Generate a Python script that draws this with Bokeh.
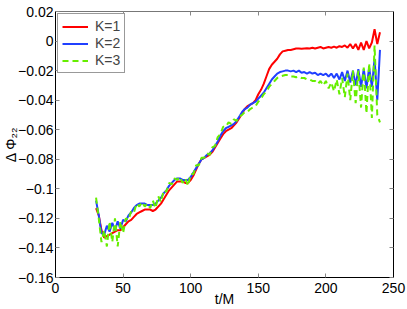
from bokeh.plotting import figure
from bokeh.models import LinearAxis, FixedTicker, Range1d, Legend, LegendItem
from bokeh.embed import file_html
from bokeh.resources import INLINE

# ---- data ----
t = [30, 32, 34, 36, 38, 40, 42, 44, 46, 48, 50, 52, 54, 56, 58, 60, 62, 64, 66, 68,
     70, 72, 74, 76, 78, 80, 82, 84, 86, 88, 90, 92, 94, 96, 98, 100, 102, 104, 106, 108,
     110, 112, 114, 116, 118, 120, 122, 124, 126, 128, 130, 132, 134, 136, 138, 140, 142, 144, 146, 148,
     150, 152, 154, 156, 158, 160, 162, 164, 166, 168, 170, 172, 174, 176, 178, 180, 182, 184, 186, 188,
     190, 192, 194, 196, 198, 200, 202, 204, 206, 208, 210, 212, 214, 216, 218, 220, 222, 224, 226, 228,
     230, 232, 234, 236, 238, 240]

k1 = [-0.113, -0.118, -0.128, -0.133, -0.132, -0.131, -0.130, -0.129, -0.128, -0.128,
      -0.126, -0.124, -0.122, -0.121, -0.119, -0.117, -0.116, -0.115, -0.114, -0.114,
      -0.114, -0.115, -0.114, -0.112, -0.110, -0.107, -0.104, -0.101, -0.099, -0.097,
      -0.095, -0.095, -0.095, -0.096, -0.096, -0.094, -0.091, -0.087, -0.083, -0.080,
      -0.079, -0.078, -0.077, -0.075, -0.072, -0.069, -0.066, -0.063, -0.061, -0.060,
      -0.059, -0.057, -0.055, -0.052, -0.049, -0.046, -0.044, -0.043, -0.042, -0.040,
      -0.036, -0.033, -0.029, -0.024, -0.019, -0.016, -0.014, -0.012, -0.009, -0.007,
      -0.0065, -0.006, -0.006, -0.0055, -0.005, -0.005, -0.0052, -0.005, -0.0048, -0.005,
      -0.0045, -0.005, -0.0045, -0.004, -0.005, -0.0045, -0.004, -0.0045, -0.0038, -0.0045,
      -0.0035, -0.004, -0.003, -0.0045, -0.002, -0.005, -0.002, -0.006, -0.001, -0.006,
      0.000, -0.005, -0.001, 0.008, -0.002, 0.006]

k2 = [-0.108, -0.118, -0.130, -0.131, -0.125, -0.129, -0.123, -0.128, -0.122, -0.127,
      -0.121, -0.122, -0.118, -0.116, -0.113, -0.111, -0.110, -0.110, -0.110, -0.111,
      -0.111, -0.111, -0.110, -0.108, -0.106, -0.103, -0.101, -0.098, -0.096, -0.094,
      -0.093, -0.093, -0.094, -0.094, -0.094, -0.092, -0.089, -0.086, -0.083, -0.080,
      -0.079, -0.077, -0.076, -0.074, -0.071, -0.068, -0.064, -0.061, -0.059, -0.058,
      -0.057, -0.056, -0.054, -0.051, -0.048, -0.046, -0.045, -0.043, -0.042, -0.041,
      -0.039, -0.037, -0.035, -0.032, -0.029, -0.026, -0.024, -0.022, -0.021, -0.0205,
      -0.020, -0.020, -0.0205, -0.020, -0.021, -0.020, -0.0215, -0.021, -0.022, -0.021,
      -0.022, -0.0215, -0.023, -0.022, -0.023, -0.022, -0.024, -0.022, -0.025, -0.022,
      -0.026, -0.021, -0.027, -0.020, -0.028, -0.020, -0.030, -0.019, -0.031, -0.019,
      -0.032, -0.018, -0.031, -0.012, -0.040, -0.006]

k3 = [-0.106, -0.120, -0.136, -0.128, -0.139, -0.122, -0.136, -0.120, -0.139, -0.122,
      -0.130, -0.120, -0.121, -0.115, -0.116, -0.110, -0.112, -0.109, -0.112, -0.110,
      -0.113, -0.108, -0.113, -0.105, -0.109, -0.101, -0.102, -0.096, -0.097, -0.093,
      -0.094, -0.092, -0.096, -0.093, -0.098, -0.090, -0.090, -0.084, -0.084, -0.079,
      -0.079, -0.076, -0.077, -0.072, -0.071, -0.065, -0.063, -0.058, -0.058, -0.055,
      -0.056, -0.053, -0.054, -0.051, -0.050, -0.048, -0.048, -0.046, -0.045, -0.044,
      -0.041, -0.039, -0.036, -0.034, -0.031, -0.029, -0.027, -0.025, -0.024, -0.0235,
      -0.023, -0.023, -0.024, -0.024, -0.0245, -0.024, -0.025, -0.025, -0.026, -0.026,
      -0.027, -0.027, -0.029, -0.027, -0.030, -0.027, -0.032, -0.028, -0.034, -0.026,
      -0.036, -0.025, -0.038, -0.022, -0.040, -0.020, -0.042, -0.020, -0.045, -0.018,
      -0.049, -0.015, -0.052, -0.003, -0.050, -0.055]

series_names = ["K=1", "K=2", "K=3"]
x_ticks = [0, 50, 100, 150, 200, 250]
y_ticks = [0.02, 0, -0.02, -0.04, -0.06, -0.08, -0.1, -0.12, -0.14, -0.16]
y_tick_labels = ["0.02", "0", "\u22120.02", "\u22120.04", "\u22120.06", "\u22120.08",
                 "\u22120.1", "\u22120.12", "\u22120.14", "\u22120.16"]
x_label = "t/M"
y_label = "\u0394 \u03a6\u2082\u2082"

FONT = "Liberation Sans"

p = figure(width=407, height=309, output_backend="svg", toolbar_location=None,
           x_range=Range1d(0, 250), y_range=Range1d(-0.16, 0.02),
           min_border_left=54, min_border_right=14, min_border_top=11, min_border_bottom=32,
           background_fill_color="white", border_fill_color="white")
p.grid.visible = False
p.outline_line_color = None

r1 = p.line(t, k1, line_color="#ff0000", line_width=2)
r2 = p.line(t, k2, line_color="#2040ff", line_width=2)
r3 = p.line(t, k3, line_color="#66ee00", line_width=2, line_dash="6 4")


def style_axis(ax, ticks, labels=None):
    ax.ticker = FixedTicker(ticks=ticks)
    ax.axis_line_color = "black"
    ax.axis_line_width = 1
    ax.major_tick_in = 4
    ax.major_tick_out = 0
    ax.major_tick_line_color = "#888888"
    ax.minor_tick_line_color = None
    ax.major_label_text_font = FONT
    ax.major_label_text_font_size = "14px"
    ax.major_label_text_color = "black"
    if labels is not None:
        ax.major_label_overrides = {v: s for v, s in zip(ticks, labels)}
    ax.axis_label_text_font = FONT
    ax.axis_label_text_font_size = "14px"
    ax.axis_label_text_font_style = "normal"
    ax.axis_label_text_color = "black"


xa = p.xaxis[0]
style_axis(xa, x_ticks)
xa.major_label_standoff = 5
xa.axis_label = x_label
xa.axis_label_standoff = -5

ya = p.yaxis[0]
style_axis(ya, y_ticks, y_tick_labels)
ya.major_label_standoff = 2
ya.axis_label = y_label
ya.axis_label_standoff = -4

top = LinearAxis()
style_axis(top, x_ticks, ["" for _ in x_ticks])
top.axis_line_color = "#777777"
top.major_label_standoff = 0
p.add_layout(top, "above")

right = LinearAxis()
style_axis(right, y_ticks, ["" for _ in y_ticks])
right.major_label_standoff = 0
p.add_layout(right, "right")

legend = Legend(items=[LegendItem(label=series_names[0], renderers=[r1]),
                       LegendItem(label=series_names[1], renderers=[r2]),
                       LegendItem(label=series_names[2], renderers=[r3])],
                location="top_left")
legend.margin = 2
legend.padding = 4
legend.spacing = 1
legend.label_height = 15
legend.glyph_height = 15
legend.glyph_width = 26
legend.label_standoff = 7
legend.label_text_font = FONT
legend.label_text_font_size = "14px"
legend.border_line_color = "#333333"
legend.border_line_width = 1
legend.background_fill_alpha = 1
p.add_layout(legend)

open("out.html", "w").write(file_html(p, INLINE))
